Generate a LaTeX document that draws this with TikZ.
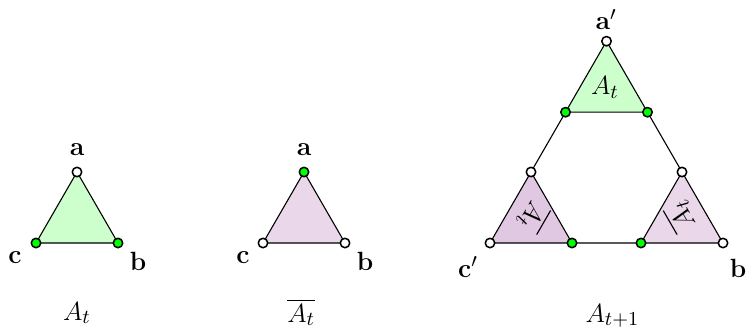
\documentclass[tikz,border=0pt]{standalone}
\usepackage{amsfonts,amsmath,amssymb}
\usepackage{xcolor}
\definecolor{mint}{RGB}{204,255,204}
\definecolor{lilac}{RGB}{234,216,234}
\definecolor{lilacdark}{RGB}{225,200,226}
\tikzset{
  every picture/.style={line join=round, line cap=round, font=\fontsize{12.8}{15}\selectfont},
  vtx/.style={circle, draw, line width=0.7pt, inner sep=0pt, minimum size=4.3pt},
  open/.style={vtx, fill=white},
  full/.style={vtx, fill=green},
}

\begin{document}
\begin{tikzpicture}[line width=0.5pt]
\useasboundingbox (0,0) rectangle (11.936,5.264);
% A_t
\coordinate (a1) at (1.232,2.512);
\coordinate (b1) at (1.888,1.376);
\coordinate (c1) at (0.576,1.376);
\filldraw[fill=mint] (a1)--(b1)--(c1)--cycle;
\node[open] (da1) at (a1) {};
\node[full] (db1) at (b1) {};
\node[full] (dc1) at (c1) {};
\node (la1) at (1.232,2.87) {$\mathbf{a}$};
\node (lb1) at (2.208,1.088) {$\mathbf{b}$};
\node (lc1) at (0.24,1.136) {$\mathbf{c}$};
\node[anchor=base] (cap1) at (1.232,0.144) {$A_t$};
% overline A_t
\coordinate (a2) at (4.864,2.512);
\coordinate (b2) at (5.52,1.376);
\coordinate (c2) at (4.208,1.376);
\filldraw[fill=lilac] (a2)--(b2)--(c2)--cycle;
\node[full] (da2) at (a2) {};
\node[open] (db2) at (b2) {};
\node[open] (dc2) at (c2) {};
\node (la2) at (4.864,2.87) {$\mathbf{a}$};
\node (lb2) at (5.84,1.088) {$\mathbf{b}$};
\node (lc2) at (3.888,1.136) {$\mathbf{c}$};
\node[anchor=base] (cap2) at (4.82,0.112) {$\overline{A_t}$};
% A_{t+1}
\coordinate (a3) at (9.704,4.605);
\coordinate (t1) at (9.048,3.469);
\coordinate (t2) at (10.36,3.469);
\coordinate (l1) at (8.496,2.512);
\coordinate (c3) at (7.84,1.376);
\coordinate (l2) at (9.152,1.376);
\coordinate (r1) at (10.912,2.512);
\coordinate (r2) at (10.256,1.376);
\coordinate (b3) at (11.568,1.376);
\filldraw[fill=mint] (a3)--(t2)--(t1)--cycle;
\filldraw[fill=lilacdark] (l1)--(l2)--(c3)--cycle;
\filldraw[fill=lilac] (r1)--(b3)--(r2)--cycle;
\draw (t1)--(l1) (t2)--(r1) (l2)--(r2);
\node (in1) at (9.68,3.87) {$A_t$};
\node[rotate=-120] (in2) at (8.53,1.80) {$\overline{A_t}$};
\node[rotate=120] (in3) at (10.89,1.80) {$\overline{A_t}$};
\node[open] (da3) at (a3) {};
\node[full] (dt1) at (t1) {};
\node[full] (dt2) at (t2) {};
\node[open] (dl1) at (l1) {};
\node[open] (dc3) at (c3) {};
\node[full] (dl2) at (l2) {};
\node[open] (dr1) at (r1) {};
\node[full] (dr2) at (r2) {};
\node[open] (db3) at (b3) {};
\node (la3) at (9.70,4.95) {$\mathbf{a}'$};
\node (lc3) at (7.488,0.992) {$\mathbf{c}'$};
\node (lb3) at (11.808,0.976) {$\mathbf{b}$};
\node[anchor=base] (cap3) at (9.80,0.112) {$A_{t+1}$};
\end{tikzpicture}
\end{document}
